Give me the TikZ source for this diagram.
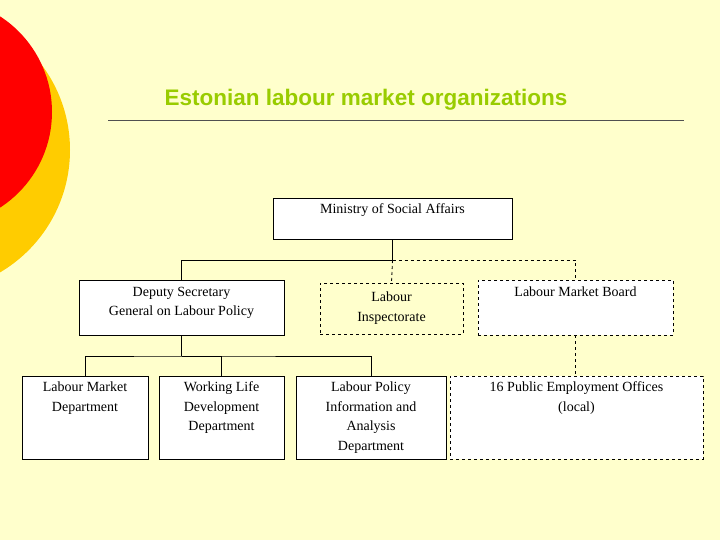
\documentclass[tikz,border=0pt]{standalone}
\usepackage{fontspec}
\setmainfont{Liberation Serif}
\newfontfamily\titlefont{Liberation Sans}
\begin{document}
\begin{tikzpicture}[x=1pt,y=-1pt,
  box/.style={draw=black,line width=0.8pt,fill=white,inner sep=0pt},
  dbox/.style={box,dashed},
  txt/.style={anchor=north,align=center,font=\fontsize{14}{19.5}\selectfont,inner sep=0pt},
  con/.style={line width=0.8pt},
  dcon/.style={line width=0.8pt,dashed}]
\useasboundingbox (0,0) rectangle (720,540);
\fill[fill={rgb,255:red,255;green,255;blue,204}] (0,0) rectangle (720,540);
\begin{scope}
\clip (0,0) rectangle (720,540);
\fill[fill={rgb,255:red,255;green,204;blue,0}] (-72,150) circle (142);
\fill[fill={rgb,255:red,255;green,0;blue,0}] (-62,112) circle (114);
\end{scope}
\node[font=\titlefont\bfseries\fontsize{22.5}{26}\selectfont,text={rgb,255:red,153;green,204;blue,0}] (title) at (366,100) {Estonian labour market organizations};
\draw[line width=0.7pt,draw={rgb,255:red,80;green,80;blue,80}] (108,120) coordinate (tl) -- (684,120) coordinate (tr);
% boxes
\node[box,minimum width=239,minimum height=41] (m) at (392.5,218.5) {};
\node[box,minimum width=205,minimum height=55] (d) at (181.5,307.5) {};
\node[dbox,fill=none,minimum width=143,minimum height=51] (li) at (391.5,308.5) {};
\node[dbox,minimum width=195,minimum height=55] (lmb) at (575.5,307.5) {};
\node[box,minimum width=126,minimum height=83] (b1) at (85,417.5) {};
\node[box,minimum width=125,minimum height=83] (b2) at (221.5,417.5) {};
\node[box,minimum width=150,minimum height=83] (b3) at (371,417.5) {};
\node[dbox,minimum width=253,minimum height=83] (b4) at (576.5,417.5) {};
% texts
\node[txt] (tm) at ([yshift=-6]m.north) {Ministry of Social Affairs};
\node[txt] (td) at ([yshift=-7]d.north) {Deputy Secretary\\General on Labour Policy};
\node[txt] (tli) at ([yshift=-9]li.north) {Labour\\Inspectorate};
\node[txt] (tlmb) at ([yshift=-7]lmb.north) {Labour Market Board};
\node[txt] (t1) at ([yshift=-6]b1.north) {Labour Market\\Department};
\node[txt] (t2) at ([yshift=-6]b2.north) {Working Life\\Development\\Department};
\node[txt] (t3) at ([yshift=-6]b3.north) {Labour Policy\\Information and\\Analysis\\Department};
\node[txt] (t4) at ([yshift=-6]b4.north) {16 Public Employment Offices\\(local)};
% connectors
\coordinate (j1) at (m.south |- 0,260);
\draw[dcon] (j1) -| (lmb.north);
\draw[dcon] (j1) -- (li.north);
\draw[con] (m.south) -- (j1) -| (d.north);
\coordinate (j2) at (d.south |- 0,356);
\draw[con] (d.south) -- (j2);
\draw[con] (b1.north) |- (j2) -| (b3.north);
\draw[con] (j2) -| (b2.north);
\draw[dcon] (lmb.south) -- (b4.north -| lmb.south);
\end{tikzpicture}
\end{document}
